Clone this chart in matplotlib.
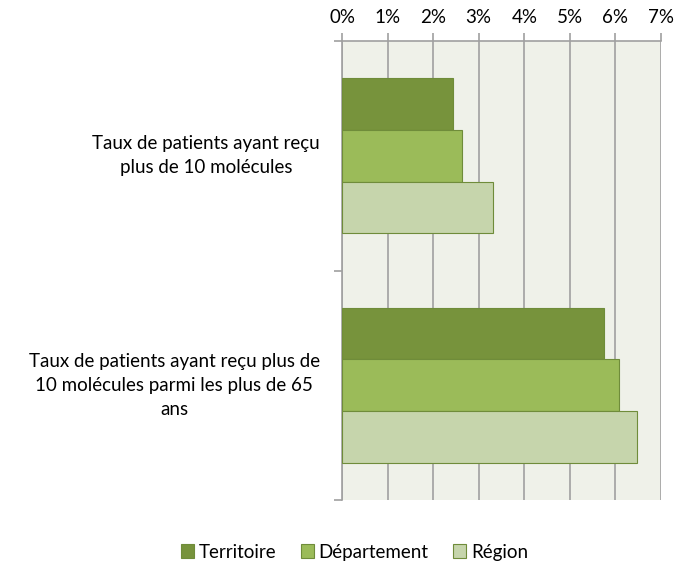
import numpy as np
import matplotlib.pyplot as plt
from matplotlib.ticker import FuncFormatter, FixedLocator

plt.rcParams['font.family'] = ['Lato', 'DejaVu Sans']

categories = [
    "Taux de patients ayant reçu\nplus de 10 molécules",
    "Taux de patients ayant reçu plus de\n10 molécules parmi les plus de 65\nans",
]
series = ["Territoire", "Département", "Région"]
territoire = [2.43, 5.74]
departement = [2.63, 6.07]
region = [3.31, 6.47]
colors = ["#77933C", "#9BBB59", "#C6D5AC"]

fig = plt.figure(figsize=(6.95, 5.65), dpi=100)
ax = fig.add_axes([342 / 695, 1 - 500 / 565, 319 / 695, 459 / 565])
ax.set_facecolor("#EFF1E9")

y = np.arange(len(categories))
h = 0.225
for i, (vals, c, name) in enumerate(zip([territoire, departement, region], colors, series)):
    ax.barh(y + (i - 1) * h, vals, height=h, color=c, edgecolor="#6F8C3A",
            linewidth=0.8, label=name, zorder=3)

ax.set_xlim(0, 7)
ax.set_ylim(1.5, -0.5)
ax.xaxis.tick_top()
ax.xaxis.set_major_locator(FixedLocator(range(8)))
ax.xaxis.set_major_formatter(FuncFormatter(lambda v, p: f"{int(v)}%"))
ax.grid(axis="x", color="#A0A0A0", linewidth=1.2, zorder=1)
ax.tick_params(axis="x", length=6, width=1.2, color="#A0A0A0", labelsize=13.5, pad=5)

ax.set_yticks(y)
ax.set_yticklabels([])
ax.tick_params(axis="y", which="major", length=0)
ax.yaxis.set_minor_locator(FixedLocator([-0.5, 0.5, 1.5]))
ax.tick_params(axis="y", which="minor", length=6, width=1.2, color="#A0A0A0")

for s in ["right", "bottom"]:
    ax.spines[s].set_visible(False)
for s in ["left", "top"]:
    ax.spines[s].set_color("#A0A0A0")
    ax.spines[s].set_linewidth(1.2)

for yi, lab in zip(y, categories):
    ax.text(-0.07, yi, lab, transform=ax.get_yaxis_transform(), ha="right",
            va="center", multialignment="center", fontsize=13.5, linespacing=1.5)

fig.legend(loc="lower center", bbox_to_anchor=(0.51, -0.022), ncol=3, frameon=False,
           fontsize=13.5, handlelength=0.7, handleheight=0.7, handletextpad=0.25,
           columnspacing=1.3)

fig.savefig("out.png", dpi=100)
